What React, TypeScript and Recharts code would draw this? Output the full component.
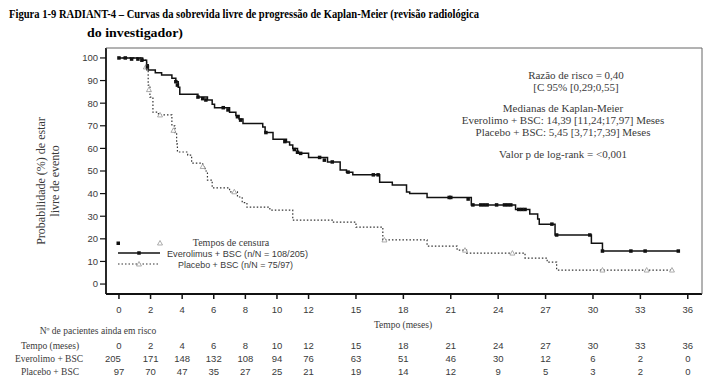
import React from 'react';
import { ComposedChart, Line, Scatter, XAxis, YAxis } from 'recharts';

// time (months) and survival (%) for each step of the KM curves
const everoTimes = [0, 1.5, 1.75, 1.85, 2.3, 2.7, 3.35, 3.6, 3.75, 3.85, 5.0, 5.6, 5.9, 6.05, 7.0, 7.4, 7.6, 7.85, 9.1, 9.25, 9.75, 10.6, 10.8, 11.0, 11.3, 12.0, 13.2, 14.0, 14.4, 14.8, 16.5, 17.3, 18.2, 18.4, 19.5, 22.3, 25.1, 26.0, 26.5, 26.6, 27.6, 29.9, 30.6, 35.4];
const everoSurv = [100, 99, 97, 94.7, 93.5, 92.5, 91, 89.5, 87, 84, 82.7, 81.4, 79.5, 78, 76, 74.5, 73, 71, 69.5, 67, 64, 62.8, 61.5, 60, 57.8, 56, 54, 50.4, 49.5, 48.3, 45, 43.8, 40.7, 40, 38.3, 35, 33, 31, 28.8, 26.5, 21.7, 18, 14.6, 14.6];

const placeboTimes = [0, 1.5, 1.75, 1.85, 1.96, 2.15, 2.5, 3.35, 3.55, 3.65, 3.7, 4.35, 4.6, 5.3, 5.45, 5.6, 5.9, 7.0, 7.5, 7.8, 8.1, 9.55, 11.0, 13.5, 15.0, 16.7, 19.5, 21.4, 22.0, 25.7, 27.1, 27.7, 35.1];
const placeboSurv = [100, 99, 94.7, 88, 82.7, 76, 74.8, 70, 67, 62, 58.4, 57, 53.5, 52, 50, 46, 42.5, 40.8, 38.5, 36, 34, 32.7, 28.3, 27.4, 25.2, 19.5, 16.8, 15, 13.7, 11.5, 9.7, 6.2, 6.2];

// censoring marks
const everoCensorTimes = [0, 0.4, 0.8, 1.2, 1.45, 1.8, 3.6, 3.7, 5.0, 5.3, 5.5, 6.6, 6.9, 7.5, 7.7, 9.3, 10.5, 11.1, 11.3, 11.5, 12.7, 13.0, 13.5, 14.5, 16.1, 16.4, 20.9, 21.0, 22.1, 22.4, 22.9, 23.1, 23.3, 23.9, 24.4, 24.6, 24.8, 25.3, 25.5, 25.7, 27.4, 27.7, 29.8, 30.6, 32.4, 33.3, 35.4];
const everoCensorSurv = [100, 100, 99.5, 99.5, 99, 96, 89.5, 88, 82.7, 82, 81.4, 78, 77, 74, 72.5, 67, 63, 59.5, 58.3, 57.8, 56, 54.8, 54, 49.5, 48.3, 48.3, 38.3, 38.3, 37.6, 35, 35, 35, 35, 35, 35, 35, 35, 33, 33, 33, 26.5, 21.7, 21.7, 14.6, 14.6, 14.6, 14.6];

const placeboCensorTimes = [1.7, 1.9, 2.6, 3.45, 5.3, 7.3, 16.8, 21.9, 24.9, 30.6, 33.4, 35.0];
const placeboCensorSurv = [96, 86, 74.8, 68, 52, 40.8, 19.5, 15, 13.7, 6.2, 6.2, 6.2];

const xTicks = [0, 2, 4, 6, 8, 10, 12, 15, 18, 21, 24, 27, 30, 33, 36];
const yTicks = [0, 10, 20, 30, 40, 50, 60, 70, 80, 90, 100];

const atRiskEvero = [205, 171, 148, 132, 108, 94, 76, 63, 51, 46, 30, 12, 6, 2, 0];
const atRiskPlacebo = [97, 70, 47, 35, 27, 25, 21, 19, 14, 12, 9, 5, 3, 2, 0];

const annotation = [
  'Razão de risco = 0,40',
  '[C 95% [0,29;0,55]',
  'Medianas de Kaplan-Meier',
  'Everolimo + BSC: 14,39 [11,24;17,97] Meses',
  'Placebo + BSC: 5,45 [3,71;7,39] Meses',
  'Valor p  de log-rank = <0,001',
];

const everoData = everoTimes.map((t, i) => ({ t, s: everoSurv[i] }));
const placeboData = placeboTimes.map((t, i) => ({ t, s: placeboSurv[i] }));
const everoCensor = everoCensorTimes.map((t, i) => ({ t, s: everoCensorSurv[i] }));
const placeboCensor = placeboCensorTimes.map((t, i) => ({ t, s: placeboCensorSurv[i] }));

const W = 718;
const H = 390;
const X_DOMAIN: [number, number] = [-0.82, 36.9];
const Y_DOMAIN: [number, number] = [-4.4, 104.4];
const PLOT = { left: 106, right: 702, top: 48, bottom: 294 };
const SERIF = '"Liberation Serif", "DejaVu Serif", serif';
const SANS = '"Liberation Sans", Arial, sans-serif';
const TXT = '#3a3a3a';

const xPx = (t: number) =>
  PLOT.left + ((t - X_DOMAIN[0]) / (X_DOMAIN[1] - X_DOMAIN[0])) * (PLOT.right - PLOT.left);

const Square = (props: any) => {
  const { cx, cy } = props;
  if (cx == null || cy == null) return null;
  return <rect x={cx - 1.75} y={cy - 1.75} width={3.5} height={3.5} fill="#111" />;
};

const Triangle = (props: any) => {
  const { cx, cy } = props;
  if (cx == null || cy == null) return null;
  return (
    <path
      d={`M${cx},${cy - 2.5} L${cx + 2.5},${cy + 2} L${cx - 2.5},${cy + 2} Z`}
      fill="#fff"
      stroke="#8a8a8a"
      strokeWidth={0.7}
    />
  );
};

const Overlay = () => {
  const annY = [79, 91, 112, 124, 136, 158];
  return (
    <svg width={W} height={H} style={{ position: 'absolute', left: 0, top: 0, pointerEvents: 'none' }}>
      {/* title */}
      <text x={9} y={18} fontFamily={SERIF} fontWeight="bold" fontSize={13.5} fill="#000" textLength={470} lengthAdjust="spacingAndGlyphs">
        Figura 1-9 RADIANT-4 – Curvas da sobrevida livre de progressão de Kaplan-Meier (revisão radiológica
      </text>
      <text x={87} y={37} fontFamily={SERIF} fontWeight="bold" fontSize={13.5} fill="#000" textLength={96} lengthAdjust="spacingAndGlyphs">
        do investigador)
      </text>

      {/* frame top / right */}
      <line x1={PLOT.left} y1={PLOT.top} x2={PLOT.right} y2={PLOT.top} stroke="#666" strokeWidth={1} />
      <line x1={PLOT.right} y1={PLOT.top} x2={PLOT.right} y2={PLOT.bottom} stroke="#666" strokeWidth={1} />

      {/* y axis label */}
      <g transform="translate(45,181) rotate(-90)">
        <text x={0} y={0} textAnchor="middle" fontFamily={SERIF} fontSize={12} fill={TXT}>
          Probabilidade (%) de estar
        </text>
        <text x={0} y={14} textAnchor="middle" fontFamily={SERIF} fontSize={12} fill={TXT}>
          livre de evento
        </text>
      </g>

      {/* annotation block */}
      {annotation.map((s, i) => (
        <text key={s} x={i < 2 ? 576 : 563} y={annY[i]} textAnchor="middle" fontFamily={SERIF} fontSize={11} fill={TXT}>
          {s}
        </text>
      ))}

      {/* legend */}
      <rect x={116.5} y={241.5} width={3.5} height={3.5} fill="#111" />
      <path d="M160,240.5 L162.5,245 L157.5,245 Z" fill="#fff" stroke="#8a8a8a" strokeWidth={0.7} />
      <text x={231} y={246} textAnchor="middle" fontFamily={SERIF} fontSize={10} fill={TXT}>
        Tempos de censura
      </text>
      <line x1={118} y1={253} x2={160} y2={253} stroke="#111" strokeWidth={1.5} />
      <rect x={137.25} y={251.25} width={3.5} height={3.5} fill="#111" />
      <text x={167} y={257} fontFamily={SANS} fontSize={9.5} fill={TXT} textLength={141} lengthAdjust="spacingAndGlyphs">
        Everolimus + BSC (n/N = 108/205)
      </text>
      <line x1={118} y1={264} x2={160} y2={264} stroke="#333" strokeWidth={1.2} strokeDasharray="1.5 2" />
      <path d="M139,261.5 L141.5,266 L136.5,266 Z" fill="#fff" stroke="#8a8a8a" strokeWidth={0.7} />
      <text x={178} y={268} fontFamily={SANS} fontSize={9.5} fill={TXT} textLength={115} lengthAdjust="spacingAndGlyphs">
        Placebo + BSC (n/N = 75/97)
      </text>

      {/* x axis label */}
      <text x={403} y={328} textAnchor="middle" fontFamily={SERIF} fontSize={9.5} fill={TXT}>
        Tempo (meses)
      </text>

      {/* number at risk table */}
      <text x={98} y={334} textAnchor="middle" fontFamily={SERIF} fontSize={9.5} fill={TXT}>
        Nº de pacientes ainda em risco
      </text>
      <text x={50} y={349} textAnchor="middle" fontFamily={SERIF} fontSize={9.5} fill={TXT}>Tempo (meses)</text>
      <text x={49} y={362} textAnchor="middle" fontFamily={SERIF} fontSize={9.5} fill={TXT}>Everolimo + BSC</text>
      <text x={50} y={375} textAnchor="middle" fontFamily={SERIF} fontSize={9.5} fill={TXT}>Placebo + BSC</text>
      {xTicks.map((t, i) => (
        <g key={t}>
          <text x={xPx(t)} y={349} textAnchor="middle" fontFamily={SANS} fontSize={9.5} fill={TXT}>{t}</text>
          <text x={xPx(t) - (i === 0 ? 6 : 0)} y={362} textAnchor="middle" fontFamily={SANS} fontSize={9.5} fill={TXT}>{atRiskEvero[i]}</text>
          <text x={xPx(t)} y={375} textAnchor="middle" fontFamily={SANS} fontSize={9.5} fill={TXT}>{atRiskPlacebo[i]}</text>
        </g>
      ))}
    </svg>
  );
};

const App: React.FC = () => {
  return (
    <div style={{ position: 'absolute', left: 0, top: 0, width: W, height: H, background: '#fff' }}>
      <ComposedChart
        width={W}
        height={H}
        margin={{ top: PLOT.top, right: W - PLOT.right, bottom: H - PLOT.bottom - 30, left: 0 }}
      >
        <XAxis
          type="number"
          dataKey="t"
          domain={X_DOMAIN}
          allowDataOverflow
          ticks={xTicks}
          height={30}
          tickSize={5}
          tickMargin={7}
          stroke="#111"
          axisLine={{ stroke: '#111', strokeWidth: 1.8 }}
          tickLine={{ stroke: '#111', strokeWidth: 1.5 }}
          tick={{ fontSize: 9.5, fontFamily: SANS, fill: TXT }}
        />
        <YAxis
          type="number"
          domain={Y_DOMAIN}
          allowDataOverflow
          ticks={yTicks}
          width={PLOT.left}
          tickSize={6}
          tickMargin={2}
          stroke="#111"
          axisLine={{ stroke: '#111', strokeWidth: 1.8 }}
          tickLine={{ stroke: '#111', strokeWidth: 1.2 }}
          tick={{ fontSize: 9.5, fontFamily: SANS, fill: TXT }}
        />
        <Line
          data={placeboData}
          dataKey="s"
          type="stepAfter"
          stroke="#333"
          strokeWidth={1.2}
          strokeDasharray="1.5 2"
          dot={false}
          isAnimationActive={false}
        />
        <Line
          data={everoData}
          dataKey="s"
          type="stepAfter"
          stroke="#111"
          strokeWidth={1.5}
          dot={false}
          isAnimationActive={false}
        />
        <Scatter data={placeboCensor} dataKey="s" shape={<Triangle />} isAnimationActive={false} />
        <Scatter data={everoCensor} dataKey="s" shape={<Square />} isAnimationActive={false} />
      </ComposedChart>
      <Overlay />
    </div>
  );
};

export default App;
